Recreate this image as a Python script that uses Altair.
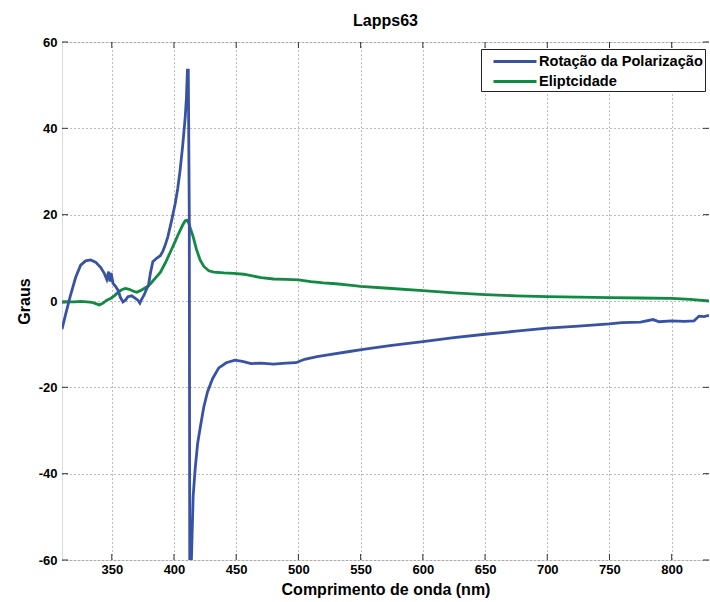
import altair as alt
import pandas as pd

# Rotação da Polarização (graus) vs comprimento de onda (nm)
wl_rot = [310, 313, 317, 321, 325, 329, 333, 337, 341, 344, 346, 347.5, 348.5, 349.5,
          351, 353, 355, 357, 359, 361, 363, 366, 369, 371, 372.6, 374, 376, 378,
          379.5, 381, 383, 386, 389, 391, 393, 395, 398, 401, 403, 405, 407, 409,
          410, 410.8, 411.5, 412.3, 412.7, 413.8, 414.5, 415.4, 417, 419, 421, 424,
          427, 431, 436, 442, 449, 455, 462, 470, 480, 490, 498, 505, 515, 525, 541,
          552, 575, 600, 625, 650, 675, 700, 725, 750, 760, 775, 785, 790, 800, 810,
          818, 822, 826, 830]
rot = [-6.5, -3.0, 1.5, 5.5, 8.3, 9.3, 9.5, 9.0, 7.8, 6.4, 5.0, 6.8, 4.5, 6.5,
       4.1, 3.4, 2.5, 0.8, -0.2, 0.2, 1.0, 1.2, 0.6, 0.2, -0.5, 0.4, 1.4, 2.8,
       3.6, 6.4, 9.1, 9.9, 10.5, 11.5, 13.0, 14.8, 18.5, 22.6, 26.0, 30.5, 36.0, 42.5,
       47.0, 53.5, 53.5, 20.0, -68.0, -62.0, -55.0, -45.3, -39.0, -33.0, -29.5, -24.5,
       -21.0, -18.0, -15.5, -14.3, -13.7, -14.0, -14.5, -14.4, -14.6, -14.4, -14.3, -13.5, -12.9, -12.4, -11.7,
       -11.2, -10.3, -9.4, -8.5, -7.7, -7.0, -6.3, -5.8, -5.3, -5.0, -4.9, -4.3, -4.8, -4.6, -4.7,
       -4.6, -3.5, -3.6, -3.3]

# Eliptcidade (graus) vs comprimento de onda (nm)
wl_eli = [310, 315, 320, 325, 330, 334, 337, 340, 343, 346, 349, 352, 355, 358,
          361, 364, 367, 370, 373, 376, 379, 382, 385, 389, 393, 397, 401, 404,
          407, 409, 410.5, 412, 413.5, 415.5, 418, 421, 424, 428, 432, 440, 448,
          456, 463, 470, 480, 490, 500, 510, 520, 530, 541, 550, 575, 600, 625,
          650, 675, 700, 725, 750, 775, 800, 815, 822, 830]
eli = [-0.3, -0.2, -0.2, -0.1, -0.2, -0.3, -0.6, -0.9, -0.5, 0.2, 0.6, 1.2, 2.0, 2.6,
       2.9, 2.7, 2.3, 2.0, 2.4, 2.9, 3.4, 4.3, 5.3, 6.6, 8.8, 11.3, 13.8, 15.8,
       17.6, 18.6, 18.7, 18.0, 16.5, 14.8, 12.0, 9.5, 8.0, 7.0, 6.7, 6.5, 6.4,
       6.2, 5.8, 5.4, 5.1, 5.0, 4.9, 4.5, 4.2, 4.0, 3.7, 3.4, 2.9, 2.4, 1.9,
       1.5, 1.2, 1.0, 0.9, 0.8, 0.7, 0.6, 0.4, 0.2, 0.0]

series = ["Rotação da Polarização", "Eliptcidade"]
colors = ["#3953a4", "#138a43"]

x_ticks = [350, 400, 450, 500, 550, 600, 650, 700, 750, 800]
y_ticks = [-60, -40, -20, 0, 20, 40, 60]
x_domain = [310, 830]
y_domain = [-60, 60]

W, H = 647, 518
TICK = 6

df = pd.concat([
    pd.DataFrame({"wl": wl_eli, "val": eli, "serie": series[1], "ord": range(len(wl_eli))}),
    pd.DataFrame({"wl": wl_rot, "val": rot, "serie": series[0], "ord": range(len(wl_rot))}),
])

x_scale = alt.Scale(domain=x_domain, nice=False, zero=False)
y_scale = alt.Scale(domain=y_domain, nice=False, zero=False)

font = "Liberation Sans"
grid_color = "#7a7a7a"

x_axis = alt.Axis(values=x_ticks, title="Comprimento de onda (nm)", ticks=False,
                  domain=False, labelPadding=3, labelFontSize=13, labelFontWeight="bold",
                  labelFont=font, labelColor="black", titleFont=font, titleFontSize=16,
                  titleFontWeight="bold", titleColor="black", titlePadding=5,
                  labelExpr="datum.value",
                  grid=True, gridDash=[1, 3], gridColor=grid_color, gridWidth=1)
y_axis = alt.Axis(values=y_ticks, title="Graus", ticks=False, domain=False,
                  labelPadding=5, labelFontSize=13, labelFontWeight="bold", labelFont=font,
                  labelColor="black", titleFont=font, titleFontSize=16, titleFontWeight="bold",
                  titleColor="black", titlePadding=6, labelExpr="datum.value",
                  grid=True, gridDash=[1, 3], gridColor=grid_color, gridWidth=1)

# legend swatch: a horizontal stroke, shifted right inside its entry
swatch = "M0,0L5,0"

lines = alt.Chart(df).mark_line(strokeWidth=2.8, clip=True).encode(
    x=alt.X("wl:Q", scale=x_scale, axis=x_axis),
    y=alt.Y("val:Q", scale=y_scale, axis=y_axis),
    color=alt.Color("serie:N", sort=series,
                    scale=alt.Scale(domain=series, range=colors),
                    legend=alt.Legend(title=None, orient="none", legendX=419, legendY=7,
                                      symbolType=swatch, symbolStrokeWidth=3,
                                      symbolSize=296, labelFont=font, labelFontSize=14.6,
                                      labelFontWeight="bold", labelColor="black",
                                      labelLimit=400, labelOffset=35, rowPadding=2,
                                      padding=2, strokeColor="#222222",
                                      fillColor="white")),
    detail="serie:N",
    order="ord:Q",
)

# inward tick marks on all four sides of the frame
xt = pd.DataFrame({"t": x_ticks})
yt = pd.DataFrame({"t": y_ticks})
tick_color = "#333333"
x_bot = alt.Chart(xt).mark_rule(color=tick_color).encode(
    x=alt.X("t:Q", scale=x_scale), y=alt.value(H), y2=alt.value(H - TICK))
x_top = alt.Chart(xt).mark_rule(color=tick_color).encode(
    x=alt.X("t:Q", scale=x_scale), y=alt.value(0), y2=alt.value(TICK))
y_left = alt.Chart(yt).mark_rule(color=tick_color).encode(
    y=alt.Y("t:Q", scale=y_scale), x=alt.value(0), x2=alt.value(TICK))
y_right = alt.Chart(yt).mark_rule(color=tick_color).encode(
    y=alt.Y("t:Q", scale=y_scale), x=alt.value(W), x2=alt.value(W - TICK))

chart = alt.layer(x_bot, x_top, y_left, y_right, lines).properties(
    width=W, height=H,
    title=alt.TitleParams("Lapps63", font=font, fontSize=16, fontWeight="bold",
                          color="black", anchor="middle", offset=7),
    padding={"left": 62, "top": 42, "right": 0, "bottom": 42},
    autosize=alt.AutoSizeParams(type="none"),
).configure_view(stroke="#333333", strokeWidth=1).configure(background="white")

chart.save("out.html", embed_options={"renderer": "svg", "actions": False})
